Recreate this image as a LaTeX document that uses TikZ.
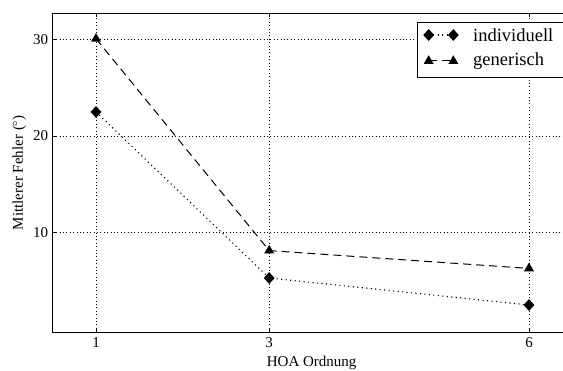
\documentclass[tikz,border=0pt]{standalone}
\usepackage{fontspec}
\setmainfont{Liberation Serif}
\usetikzlibrary{shapes.geometric}
\begin{document}
\begin{tikzpicture}[
  font=\fontsize{15}{18}\selectfont,
  frame/.style={line width=0.9pt},
  gridline/.style={line width=0.8pt, dash pattern=on 0.8pt off 2.6pt},
  indline/.style={line width=1.1pt, dash pattern=on 1.1pt off 3.4pt},
  genline/.style={line width=1pt, dash pattern=on 8pt off 5pt},
  diam/.style={diamond, fill=black, inner sep=0pt, minimum width=11pt, minimum height=12pt},
  tri/.style={regular polygon, regular polygon sides=3, fill=black, inner sep=0pt, minimum size=11.5pt},
  ticklab/.style={inner sep=0pt},
  legtext/.style={inner sep=0pt, anchor=base west, font=\fontsize{18.5}{20}\selectfont},
]
\useasboundingbox (0,0) rectangle (563pt,370pt);
\begin{scope}[shift={(9.4pt,41.4pt)}, x=86.6pt, y=9.63pt]
  % grid
  \foreach \v in {1,3,6} \draw[gridline] (\v,-0.35) -- (\v,32.77);
  \foreach \w in {10,20,30} \draw[gridline] (0.5,\w) -- (6.5,\w);
  % ticks
  \foreach \v in {1,3,6} {
    \draw[line width=0.6pt] (\v,-0.35) -- ++(0,4pt);
    \draw[line width=0.6pt] (\v,32.77) -- ++(0,-4pt);
    \node[ticklab, anchor=base] at (\v,-2.01) {\v};
  }
  \foreach \w in {10,20,30} {
    \draw[line width=0.6pt] (0.5,\w) -- ++(4pt,0);
    \node[ticklab, anchor=east] at (0.449,\w) {\w};
  }
  % data
  \node[diam] (i1) at (1,22.5) {};
  \node[diam] (i3) at (3,5.25) {};
  \node[diam] (i6) at (6,2.45) {};
  \node[tri] (g1) at (1,30.1) {};
  \node[tri] (g3) at (3,8.1) {};
  \node[tri] (g6) at (6,6.25) {};
  \draw[indline] (i1.center) -- (i3.center) -- (i6.center);
  \draw[genline] (g1.center) -- (g3.center) -- (g6.center);
  % frame
  \draw[frame] (0.5,-0.35) rectangle (6.5,32.77);
  % labels
  \node[anchor=base, inner sep=0pt] (xl) at (3.49,-3.96) {HOA Ordnung};
  \node[rotate=90, anchor=base, inner sep=0pt] (yl) at (0.157,16.2) {Mittlerer Fehler ($^\circ$)};
\end{scope}
% legend
\draw[line width=0.9pt, fill=white] (417.7pt,292.3pt) rectangle (575pt,347.3pt);
\node[diam] (li1) at (428.7pt,335pt) {};
\node[diam] (li2) at (453.3pt,335pt) {};
\draw[indline] (li1.center) -- (li2.center);
\node[legtext] (lt1) at (473pt,328.3pt) {individuell};
\node[tri] (lg1) at (428.7pt,309pt) {};
\node[tri] (lg2) at (453.3pt,309pt) {};
\draw[genline] (lg1.center) -- (lg2.center);
\node[legtext] (lt2) at (473pt,304.3pt) {generisch};
\end{tikzpicture}
\end{document}
